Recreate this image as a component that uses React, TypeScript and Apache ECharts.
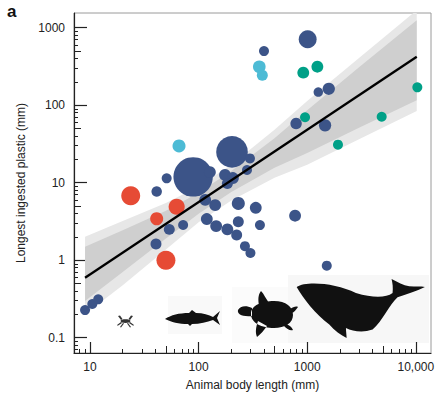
import React, { useEffect, useRef } from 'react';
import * as echarts from 'echarts';

// ---------- data ----------
// [body length mm, longest plastic mm, relative bubble weight]
const navyPoints: number[][] = [
  [1010, 710, 3.2], [400, 500, 1.0], [1580, 163, 1.5], [1265, 148, 0.9],
  [790, 58, 1.3], [1460, 55, 1.5], [89, 11.9, 15.5], [203, 25, 10],
  [297, 20.6, 1.0], [175, 12.6, 1.4], [207, 11.5, 1.4], [184, 9.8, 1.2],
  [127, 13.7, 1.4], [279, 14.6, 1.0], [50.8, 11.4, 1.0], [41.1, 7.7, 1.1],
  [115, 6.0, 1.4], [142, 5.15, 1.4], [232, 5.4, 1.7], [336, 4.75, 1.4],
  [119, 3.4, 1.4], [145, 2.76, 1.4], [184, 2.5, 1.4], [232, 3.14, 1.2],
  [224, 2.11, 1.2], [367, 2.84, 1.0], [267, 1.52, 1.0], [300, 1.24, 1.0],
  [72, 2.85, 1.0], [53.7, 2.5, 1.2], [40.5, 1.62, 1.2], [773, 3.75, 1.4],
  [1514, 0.85, 1.0], [9.0, 0.227, 1.0], [10.5, 0.272, 1.0], [11.9, 0.313, 1.0],
];
const cyanPoints: number[][] = [
  [66, 29.8, 1.7], [362, 314, 1.6], [386, 243, 1.2],
];
const tealPoints: number[][] = [
  [920, 263, 1.4], [1240, 314, 1.4], [10330, 170, 1.0],
  [4850, 71, 1.0], [955, 70, 1.0], [1920, 31, 1.0],
];
const redPoints: number[][] = [
  [23.7, 6.8, 3.6], [62.8, 4.9, 2.6], [41.1, 3.43, 1.7], [50, 1.0, 3.6],
];

// regression line
const lineX = [9, 10200];
const lineY = [0.593, 423];

// confidence bands
const bandX = [9, 20, 50, 100, 200, 500, 1000, 3000, 10200];
const darkUpper = [1.49, 2.44, 4.36, 7.41, 14.2, 37.4, 85.9, 309, 1247];
const darkLower = [0.297, 0.703, 1.9, 3.98, 7.6, 15.6, 24.2, 51.3, 116];
const lightUpper = [2.01, 3.21, 5.48, 8.91, 17.0, 48.2, 113, 407, 1683];
const lightLower = [0.201, 0.475, 1.38, 3.09, 5.9, 11.6, 17.1, 36.3, 84.3];

// ticks
const xTicks = [10, 100, 1000, 10000];
const xTickLabels = ['10', '100', '1000', '10,000'];
const yTicks = [0.1, 1, 10, 100, 1000];
const yTickLabels = ['0.1', '1', '10', '100', '1000'];

const X_MIN = 7.12;
const X_MAX = 13800;
const Y_MIN = 0.0635;
const Y_MAX = 1549;

const NAVY = '#3C5488';
const CYAN = '#4DBBD5';
const TEAL = '#00A087';
const RED = '#E64B35';
const FONT = '"Liberation Sans", Arial, Helvetica, sans-serif';

// ---------- silhouettes ----------
const FISH =
  'M0,9 C6,5 14,3 24,3 L27,0 L31,3 C38,3 44,5 48,7 L55,1 L52,8 L55,15 L48,10 C42,12 35,14 27,14 L25,16 L23,14 C14,14 6,12 0,9 Z';
const TURTLE =
  'M16,18 C10,15 4,16 2,20 C1,24 6,27 16,26 Z ' +
  'M15,24 C15,15 26,11 38,11 C50,11 57,17 57,25 C57,33 49,38 38,38 C26,38 15,33 15,24 Z ' +
  'M23,16 C22,9 22,5 25,1 C28,4 30,9 33,13 Z ' +
  'M22,31 C20,37 19,42 21,47 C25,44 28,40 31,36 Z ' +
  'M54,19 C57,17 60,16 62,17 C60,20 58,22 55,24 Z ' +
  'M50,34 C53,35 56,37 57,40 C54,41 51,39 48,36 Z';
const WHALE =
  'M2,27 C30,8 120,15 180,45 C230,60 270,60 290,45 C292,30 290,15 287,3 C305,12 322,22 340,25 C360,26 375,25 387,27 ' +
  'C365,38 335,48 305,58 C280,80 260,130 230,155 C200,165 170,160 150,150 C150,160 152,172 152,180 ' +
  'C135,172 115,158 100,140 C60,110 20,60 2,27 Z';
const CRAB =
  'M3.5,6 C3.5,3.5 13.5,3.5 13.5,6 C13.5,8.5 3.5,8.5 3.5,6 Z ' +
  'M4,5 L1,1 L3,0.5 L5.5,4 Z M13,5 L16,1 L14,0.5 L11.5,4 Z ' +
  'M4,7 L0,10 L0.8,10.8 L5,8 Z M6,8 L3,12 L4,12.5 L7,8.5 Z ' +
  'M13,7 L17,10 L16.2,10.8 L12,8 Z M11,8 L14,12 L13,12.5 L10,8.5 Z';

let registered = false;
function registerShapes() {
  if (registered) return;
  registered = true;
  const g: any = (echarts as any).graphic;
  g.registerShape('fishShape', g.extendPath(FISH, {}));
  g.registerShape('turtleShape', g.extendPath(TURTLE, {}));
  g.registerShape('whaleShape', g.extendPath(WHALE, {}));
  g.registerShape('crabShape', g.extendPath(CRAB, {}));
}

function decadeTicks(min: number, max: number, mults: number[]) {
  const out: number[] = [];
  for (let e = -3; e <= 5; e++) {
    for (const m of mults) {
      const v = m * Math.pow(10, e);
      if (v >= min && v <= max) out.push(v);
    }
  }
  return out;
}

function labelFrom(ticks: number[], labels: string[]) {
  return (v: number) => {
    for (let i = 0; i < ticks.length; i++) {
      if (Math.abs(Math.log10(v) - Math.log10(ticks[i])) < 1e-6) return labels[i];
    }
    return '';
  };
}

export default function App() {
  const ref = useRef<HTMLDivElement>(null);

  useEffect(() => {
    if (!ref.current) return;
    registerShapes();
    const chart = echarts.init(ref.current, null, { renderer: 'svg' });

    const xMid = decadeTicks(X_MIN, X_MAX, [5]);
    const xMinor = decadeTicks(X_MIN, X_MAX, [2, 3, 4, 6, 7, 8, 9]);
    const yMid = decadeTicks(Y_MIN, Y_MAX, [5]);
    const yMinor = decadeTicks(Y_MIN, Y_MAX, [2, 3, 4, 6, 7, 8, 9]);

    const axisColor = '#222';

    const baseX = {
      type: 'log' as const,
      logBase: 10,
      min: X_MIN,
      max: X_MAX,
      position: 'bottom' as const,
      splitLine: { show: false },
    };
    const baseY = {
      type: 'log' as const,
      logBase: 10,
      min: Y_MIN,
      max: Y_MAX,
      position: 'left' as const,
      splitLine: { show: false },
    };

    const scatter = (data: number[][], color: string, z: number) => ({
      type: 'scatter',
      data,
      symbol: 'circle',
      symbolSize: (v: number[]) => 10 * Math.sqrt(v[2]),
      itemStyle: { color, opacity: 1 },
      silent: true,
      z,
    });

    const option: any = {
      animation: false,
      grid: {
        left: 74,
        top: 13,
        right: 10,
        bottom: 47,
        show: true,
        borderColor: '#9a9a9a',
        borderWidth: 1,
      },
      xAxis: [
        {
          ...baseX,
          axisLine: { show: true, lineStyle: { color: axisColor, width: 1.2 } },
          axisTick: { show: true, inside: true, length: 11, customValues: xTicks, lineStyle: { color: axisColor, width: 1.2 } },
          axisLabel: {
            show: true,
            customValues: xTicks,
            formatter: labelFrom(xTicks, xTickLabels),
            color: axisColor,
            fontSize: 12,
            fontFamily: FONT,
            margin: 8,
          },
          name: 'Animal body length (mm)',
          nameLocation: 'middle',
          nameGap: 26,
          nameTextStyle: { color: axisColor, fontSize: 12, fontFamily: FONT },
        },
        {
          ...baseX,
          axisLine: { show: false },
          axisTick: { show: true, inside: true, length: 7, customValues: xMid, lineStyle: { color: axisColor, width: 1 } },
          axisLabel: { show: false },
        },
        {
          ...baseX,
          axisLine: { show: false },
          axisTick: { show: true, inside: true, length: 4, customValues: xMinor, lineStyle: { color: axisColor, width: 1 } },
          axisLabel: { show: false },
        },
      ],
      yAxis: [
        {
          ...baseY,
          axisLine: { show: true, lineStyle: { color: axisColor, width: 1.2 } },
          axisTick: { show: true, inside: true, length: 13, customValues: yTicks, lineStyle: { color: axisColor, width: 1.2 } },
          axisLabel: {
            show: true,
            customValues: yTicks,
            formatter: labelFrom(yTicks, yTickLabels),
            color: axisColor,
            fontSize: 12,
            fontFamily: FONT,
            margin: 9,
          },
          name: 'Longest ingested plastic (mm)',
          nameLocation: 'middle',
          nameGap: 45,
          nameTextStyle: { color: axisColor, fontSize: 12, fontFamily: FONT },
        },
        {
          ...baseY,
          axisLine: { show: false },
          axisTick: { show: true, inside: true, length: 7, customValues: yMid, lineStyle: { color: axisColor, width: 1 } },
          axisLabel: { show: false },
        },
        {
          ...baseY,
          axisLine: { show: false },
          axisTick: { show: true, inside: true, length: 4, customValues: yMinor, lineStyle: { color: axisColor, width: 1 } },
          axisLabel: { show: false },
        },
      ],
      graphic: [
        { type: 'text', x: 7, y: 3, style: { text: 'a', font: `bold 17px ${FONT}`, fill: '#111' }, z: 10 },
        { type: 'rect', x: 168, y: 296, shape: { width: 54, height: 38 }, style: { fill: '#f9f9f9' }, z: 0 },
        { type: 'rect', x: 232, y: 287, shape: { width: 70, height: 56 }, style: { fill: '#fbfbfb' }, z: 0 },
        { type: 'rect', x: 288, y: 275, shape: { width: 141, height: 68 }, style: { fill: '#f7f7f7' }, z: 0 },
        { type: 'crabShape', x: 117, y: 315, style: { fill: '#333' }, z: 1 },
        { type: 'fishShape', x: 165, y: 310, style: { fill: '#111' }, z: 1 },
        { type: 'turtleShape', x: 236, y: 290, style: { fill: '#111' }, z: 1 },
        { type: 'whaleShape', x: 296, y: 278, scaleX: 1 / 3, scaleY: 1 / 3, style: { fill: '#111' }, z: 1 },
      ],
      series: [
        {
          type: 'custom',
          silent: true,
          clip: true,
          z: 1,
          data: [[bandX[0], lightUpper[0]]],
          renderItem: (params: any, api: any) => {
            if (params.dataIndex !== 0) return null;
            const poly = (upper: number[], lower: number[]) => {
              const pts: number[][] = [];
              bandX.forEach((x, i) => pts.push(api.coord([x, upper[i]])));
              for (let i = bandX.length - 1; i >= 0; i--) pts.push(api.coord([bandX[i], lower[i]]));
              return pts;
            };
            return {
              type: 'group',
              children: [
                { type: 'polygon', shape: { points: poly(lightUpper, lightLower) }, style: { fill: '#e7e7e7' } },
                { type: 'polygon', shape: { points: poly(darkUpper, darkLower) }, style: { fill: '#cfcfcf' } },
              ],
            };
          },
        },
        scatter(navyPoints, NAVY, 3),
        scatter(cyanPoints, CYAN, 3),
        scatter(tealPoints, TEAL, 3),
        scatter(redPoints, RED, 3),
        {
          type: 'line',
          data: lineX.map((x, i) => [x, lineY[i]]),
          symbol: 'none',
          showSymbol: false,
          silent: true,
          lineStyle: { color: '#000', width: 2.3 },
          z: 5,
        },
      ],
    };

    chart.setOption(option);
    return () => chart.dispose();
  }, []);

  return (
    <div
      ref={ref}
      style={{ position: 'absolute', left: 0, top: 0, width: 441, height: 400, background: '#fff' }}
    />
  );
}
